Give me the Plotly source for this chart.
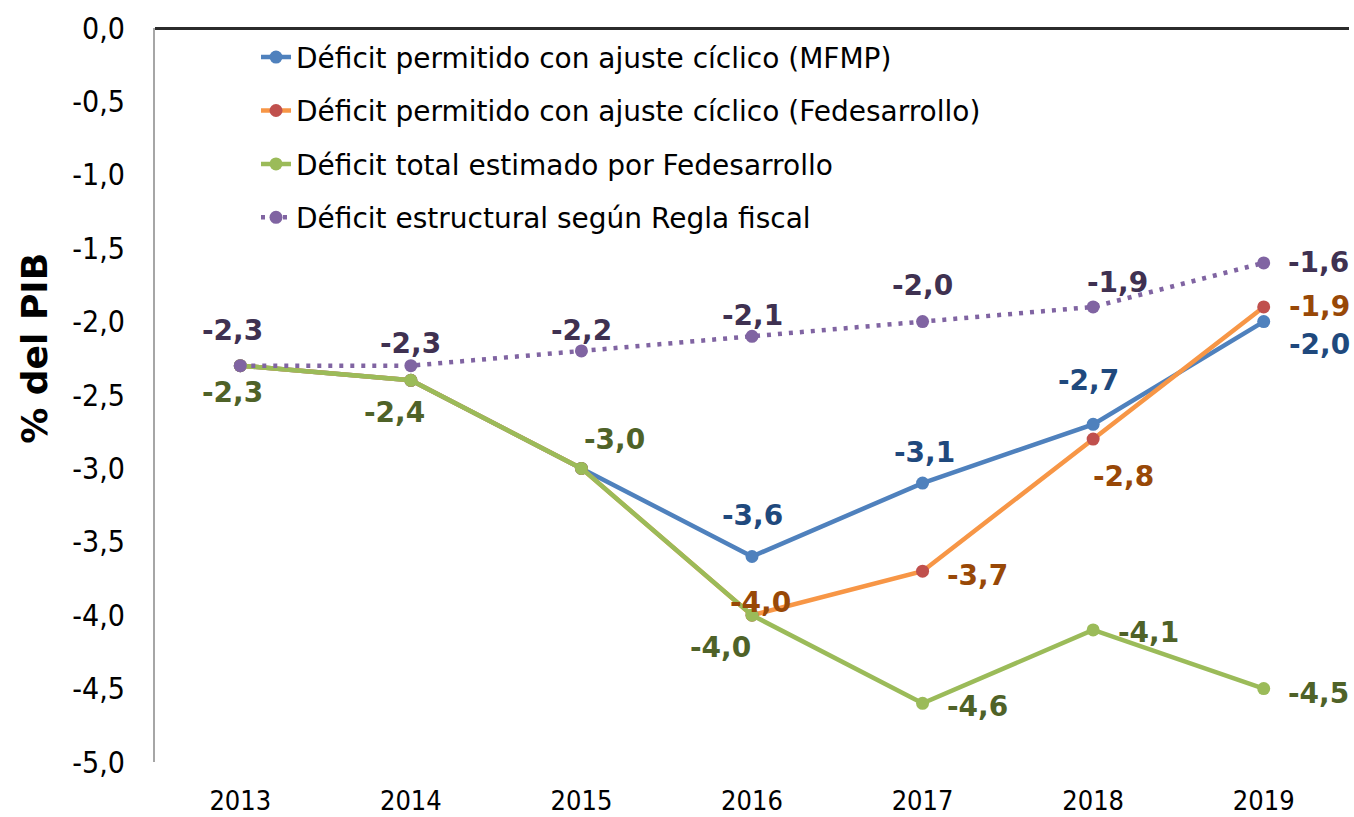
import plotly.graph_objects as go

years = ["2013", "2014", "2015", "2016", "2017", "2018", "2019"]
mfmp = [-2.3, -2.4, -3.0, -3.6, -3.1, -2.7, -2.0]
fedes = [-2.3, -2.4, -3.0, -4.0, -3.7, -2.8, -1.9]
total = [-2.3, -2.4, -3.0, -4.0, -4.6, -4.1, -4.5]
estruct = [-2.3, -2.3, -2.2, -2.1, -2.0, -1.9, -1.6]

names = [
    "Déficit permitido con ajuste cíclico (MFMP)",
    "Déficit permitido con ajuste cíclico (Fedesarrollo)",
    "Déficit total estimado por Fedesarrollo",
    "Déficit estructural según Regla fiscal",
]
y_ticks = [0.0, -0.5, -1.0, -1.5, -2.0, -2.5, -3.0, -3.5, -4.0, -4.5, -5.0]
y_tick_text = [f"{v:.1f}".replace(".", ",") for v in y_ticks]

# which points get a data label per series
show_mfmp = [False, False, False, True, True, True, True]
show_fedes = [False, False, False, True, True, True, True]
show_total = [True] * 7
show_estruct = [True] * 7

FONT = "'DejaVu Sans Condensed', 'DejaVu Sans', sans-serif"
LEGEND_FONT = "'DejaVu Sans', sans-serif"
BOLD = "'DejaVu Sans', sans-serif"

series = [
    dict(y=mfmp, name=names[0], line="#4F81BD", marker="#4F81BD", label="#1F497D", dash="solid", show=show_mfmp,
         off=[(0, 0), (0, 0), (0, 0), (0, 41), (2, 31), (-5, 44), (56, -23)]),
    dict(y=fedes, name=names[1], line="#F79646", marker="#C0504D", label="#984807", dash="solid", show=show_fedes,
         off=[(0, 0), (0, 0), (0, 0), (8, 13), (55, -4), (30, -37), (56, 0)]),
    dict(y=total, name=names[2], line="#9BBB59", marker="#9BBB59", label="#4F6228", dash="solid", show=show_total,
         off=[(-8, -27), (-16, -32), (33, 29), (-32, -32), (55, -3), (55, -3), (55, -5)]),
    dict(y=estruct, name=names[3], line="#8064A2", marker="#8064A2", label="#3F3151", dash="4px,7px", show=show_estruct,
         off=[(-8, 35), (0, 22), (0, 20), (0, 21), (0, 36), (24, 24), (55, 0)]),
]

fig = go.Figure()
annotations = []
for i, s in enumerate(series):
    fig.add_trace(go.Scatter(
        x=years, y=s["y"], name=s["name"], mode="lines+markers",
        line=dict(color=s["line"], width=4.5, dash=s["dash"]),
        marker=dict(color=s["marker"], size=13),
        legendgroup=f"g{i}",
    ))
    for j, yv in enumerate(s["y"]):
        if not s["show"][j]:
            continue
        dx, dy = s["off"][j]
        annotations.append(dict(
            x=j, y=yv, xref="x", yref="y", showarrow=False,
            text=f"<b>{yv:.1f}</b>".replace(".", ","),
            xshift=dx, yshift=dy,
            font=dict(family=BOLD, size=28, color=s["label"]),
        ))

annotations.append(dict(
    x=-0.1005, y=0.563, xref="paper", yref="paper", showarrow=False,
    xanchor="center", yanchor="middle",
    text="<b>% del PIB</b>", textangle=-90,
    font=dict(family=BOLD, size=36, color="#000000"),
))

fig.update_layout(
    width=1354, height=817,
    margin=dict(l=155, r=5, t=28, b=55),
    paper_bgcolor="white", plot_bgcolor="white",
    font=dict(family=FONT, size=24, color="#000000"),
    showlegend=True,
    legend=dict(
        x=0.0846, y=0.994, xanchor="left", yanchor="top",
        font=dict(family=LEGEND_FONT, size=28, color="#000000"),
        bgcolor="rgba(0,0,0,0)", traceorder="grouped", tracegroupgap=14,
    ),
    annotations=annotations,
)
fig.update_xaxes(
    type="category", range=[-0.5, 6.5], showline=False, showgrid=False,
    ticks="", tickfont=dict(family=FONT, size=27), ticklabelstandoff=20,
    automargin=False,
)
fig.update_yaxes(
    range=[-5.0, 0.0], tickvals=y_ticks, ticktext=y_tick_text,
    showgrid=False, showline=True, linecolor="#A6A6A6", linewidth=2,
    zeroline=True, zerolinecolor="#2B2B2B", zerolinewidth=2.5,
    ticks="", tickfont=dict(family=FONT, size=30), ticklabelstandoff=22,
    automargin=False,
)

fig.write_html(
    "out.html",
    config={"displayModeBar": False},
    post_script="document.body.style.margin='0';document.body.style.overflow='hidden';",
)
